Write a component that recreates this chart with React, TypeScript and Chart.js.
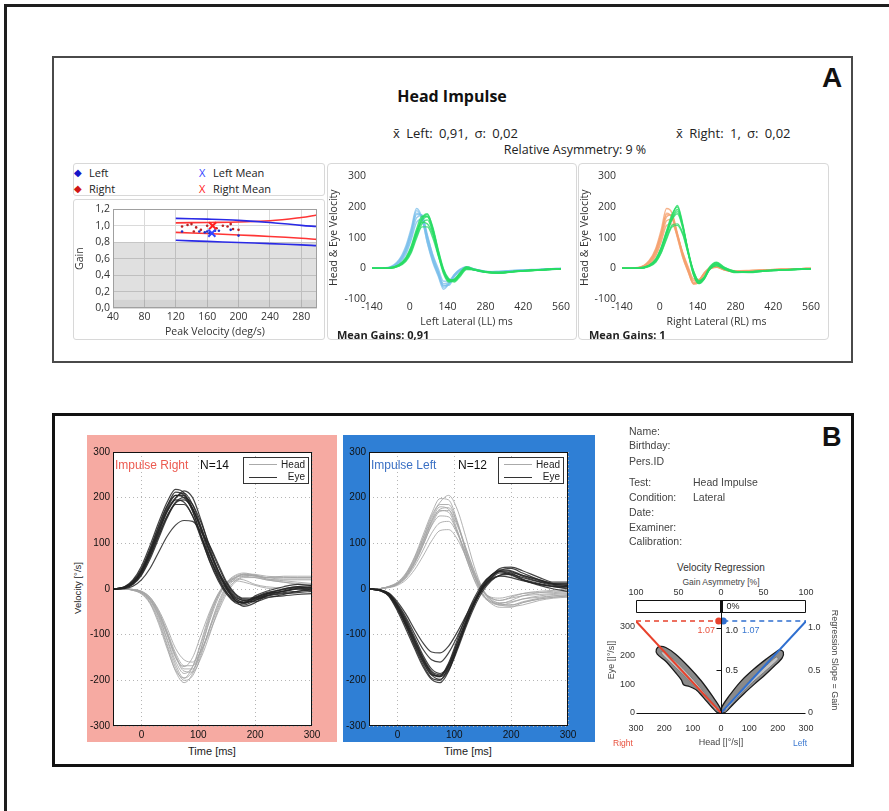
import React, { useEffect, useRef } from 'react';
import { Chart, registerables } from 'chart.js';
Chart.register(...registerables);

const SANS_A = '"Open Sans", "Noto Sans", sans-serif';
const SANS_B = '"Liberation Sans", Arial, sans-serif';

// ================= Panel A : gain vs peak velocity =================
const gainXTicks = [40, 80, 120, 160, 200, 240, 280];
const gainYTicks = [0, 0.2, 0.4, 0.6, 0.8, 1.0, 1.2];
const normLimitLow = 0.8;
const normLimitFloor = 0.1;
const regVelX = [120, 160, 200, 240, 280, 300];
const leftUpper = [1.09, 1.08, 1.065, 1.04, 1.005, 0.99];
const leftLower = [0.823, 0.81, 0.796, 0.783, 0.768, 0.758];
const rightUpper = [1.035, 1.04, 1.046, 1.06, 1.1, 1.13];
const rightLower = [0.92, 0.905, 0.888, 0.87, 0.848, 0.834];
const rightDotsX = [128, 135, 140, 143, 146, 152, 160, 172, 180, 186, 190, 193, 200];
const rightDotsY = [0.99, 1.01, 1.02, 0.93, 0.98, 0.95, 1.0, 0.97, 1.0, 0.99, 1.02, 0.96, 0.95];
const leftDotsX = [128, 150, 157, 160, 163, 170, 175, 190, 200];
const leftDotsY = [0.93, 0.93, 0.92, 0.93, 0.91, 0.94, 0.94, 0.95, 0.88];
const leftMeanVel = 166;
const leftMeanGain = 0.91;
const rightMeanVel = 167;
const rightMeanGain = 1.0;

// ================= Panel A : velocity traces =================
const tA = [-140, -80, -40, -15, 5, 25, 45, 65, 85, 105, 125, 145, 165, 185, 210, 240, 280, 330, 390, 450, 510, 560];
const tAxTicks = [-140, 0, 140, 280, 420, 560];
const tAyTicks = [-100, 0, 100, 200, 300];
const headLL = [
  [0, 2, 22, 60, 115, 180, 170, 95, 30, -15, -58, -48, -22, -5, 3, -4, -10, -12, -8, -5, -3, 0],
  [0, 3, 28, 72, 130, 195, 165, 82, 20, -25, -68, -50, -20, -3, 5, -2, -12, -10, -6, -6, -2, 0],
  [0, 1, 18, 52, 100, 165, 172, 110, 42, -8, -50, -45, -25, -8, 2, -5, -12, -14, -9, -5, -4, -1],
  [0, 2, 25, 65, 122, 188, 160, 85, 25, -20, -62, -52, -24, -6, 4, -3, -9, -11, -7, -4, -3, 0],
  [0, 1, 15, 45, 92, 150, 160, 105, 45, 0, -42, -40, -20, -6, 2, -6, -13, -12, -8, -6, -3, -1],
  [0, 2, 20, 58, 110, 175, 175, 100, 35, -12, -55, -55, -28, -10, 0, -5, -11, -10, -9, -5, -2, 0],
];
const eyeLL = [
  [0, 0, 10, 30, 65, 120, 165, 178, 130, 55, -10, -40, -40, -20, 2, -5, -12, -15, -10, -7, -4, -2],
  [0, 1, 12, 35, 72, 128, 170, 170, 120, 45, -18, -45, -38, -15, 5, -3, -10, -13, -9, -6, -3, -1],
  [0, 0, 8, 25, 55, 105, 145, 158, 118, 50, -8, -35, -38, -22, 0, -6, -13, -14, -11, -7, -5, -2],
  [0, 0, 9, 28, 60, 112, 155, 168, 128, 58, -5, -38, -42, -24, -2, -4, -12, -16, -10, -8, -4, -2],
  [0, 1, 11, 32, 68, 118, 150, 145, 110, 48, -12, -42, -35, -18, 3, -5, -11, -13, -9, -6, -4, -1],
  [0, 0, 7, 22, 50, 98, 135, 135, 100, 42, -10, -38, -36, -18, 1, -6, -12, -15, -10, -6, -3, -2],
  [0, 1, 10, 30, 62, 115, 160, 175, 135, 62, -2, -35, -45, -28, -4, -5, -13, -15, -11, -7, -4, -2],
];
const headRL = [
  [0, 2, 20, 55, 110, 175, 170, 110, 45, -5, -45, -40, -15, 0, 5, -5, -10, -8, -5, -3, -2, 0],
  [0, 3, 25, 65, 125, 195, 180, 105, 35, -12, -52, -45, -18, -2, 4, -6, -12, -9, -6, -4, -2, 0],
  [0, 1, 15, 45, 95, 155, 160, 112, 50, 0, -40, -38, -15, 2, 6, -4, -9, -8, -5, -3, -2, 0],
  [0, 2, 22, 60, 115, 180, 165, 100, 38, -10, -50, -42, -16, -1, 5, -5, -11, -10, -6, -4, -3, -1],
  [0, 1, 12, 40, 85, 140, 145, 105, 52, 5, -35, -36, -14, 2, 6, -3, -8, -7, -5, -3, -2, 0],
  [0, 2, 18, 52, 105, 168, 175, 115, 45, -6, -48, -44, -20, -3, 3, -6, -12, -9, -6, -4, -2, 0],
];
const eyeRL = [
  [0, 0, 8, 25, 60, 110, 160, 185, 135, 55, -15, -45, -30, 0, 15, 0, -12, -12, -8, -5, -3, -2],
  [0, 1, 10, 30, 68, 122, 175, 200, 140, 50, -22, -50, -32, 2, 18, 2, -10, -14, -9, -6, -3, -1],
  [0, 0, 6, 20, 50, 95, 135, 140, 110, 48, -10, -40, -28, -2, 12, -2, -13, -12, -8, -5, -4, -2],
  [0, 0, 8, 26, 62, 112, 158, 178, 132, 58, -12, -46, -34, -4, 10, -1, -12, -13, -9, -6, -3, -2],
  [0, 1, 9, 28, 64, 115, 165, 192, 138, 52, -18, -48, -28, 5, 20, 3, -10, -11, -7, -5, -3, -1],
  [0, 0, 7, 22, 52, 100, 140, 145, 115, 50, -8, -42, -30, -3, 8, -3, -14, -12, -8, -6, -4, -2],
  [0, 1, 10, 30, 66, 120, 170, 205, 145, 55, -20, -50, -35, 0, 14, 0, -11, -13, -9, -5, -3, -1],
];

// ================= Panel B : impulse traces =================
const tB = [-50, -30, -15, 0, 15, 30, 45, 60, 75, 90, 105, 120, 135, 150, 165, 180, 200, 220, 250, 275, 300];
const tBxTicks = [0, 100, 200, 300];
const tByTicks = [-300, -200, -100, 0, 100, 200, 300];
const eyeImpRight = [
  [0, 4, 16, 42, 85, 135, 180, 212, 205, 170, 118, 68, 28, -2, -22, -28, -18, -8, -2, 3, 2],
  [0, 3, 14, 38, 78, 125, 170, 200, 210, 185, 135, 80, 35, 2, -20, -30, -22, -12, -5, 0, -3],
  [0, 2, 10, 30, 65, 110, 155, 188, 195, 175, 130, 82, 40, 8, -15, -25, -20, -15, -10, -8, -5],
  [0, 5, 20, 50, 95, 145, 190, 218, 210, 172, 115, 60, 18, -12, -30, -35, -25, -12, 0, 5, 8],
  [0, 3, 12, 35, 72, 118, 160, 185, 185, 160, 115, 70, 32, 4, -18, -25, -28, -20, -12, -5, 0],
  [0, 1, 6, 20, 45, 80, 115, 140, 150, 148, 125, 95, 55, 15, -10, -20, -18, -10, -5, 0, 2],
  [0, 4, 18, 45, 88, 138, 182, 205, 200, 175, 135, 85, 40, 5, -25, -38, -30, -15, -5, 2, 5],
  [0, 3, 13, 36, 75, 122, 168, 198, 215, 200, 150, 90, 40, 0, -25, -32, -20, -10, 0, 5, 3],
  [0, 2, 11, 32, 70, 115, 158, 190, 200, 185, 145, 95, 50, 12, -12, -22, -22, -18, -15, -12, -10],
  [0, 4, 15, 40, 82, 130, 175, 205, 205, 178, 128, 72, 25, -8, -28, -30, -15, -5, 5, 10, 8],
  [0, 3, 14, 38, 80, 128, 172, 195, 190, 160, 110, 62, 22, -8, -25, -30, -25, -15, -8, -5, -2],
];
const headImpRight = [
  [0, 0, -2, -8, -25, -60, -112, -165, -195, -180, -130, -70, -20, 12, 28, 32, 28, 25, 25, 25, 25],
  [0, 0, -1, -6, -20, -50, -95, -145, -175, -175, -140, -85, -35, 5, 25, 32, 30, 22, 18, 15, 12],
  [0, 0, -3, -10, -30, -70, -125, -180, -205, -185, -130, -65, -15, 15, 30, 35, 30, 25, 28, 28, 28],
  [0, 0, -2, -7, -22, -55, -100, -150, -170, -150, -100, -50, -10, 15, 25, 28, 25, 20, 15, 10, 8],
  [0, 0, -1, -5, -18, -45, -85, -130, -155, -160, -135, -95, -50, -10, 15, 25, 25, 20, 15, 12, 10],
  [0, 0, -2, -9, -28, -65, -120, -172, -200, -190, -145, -85, -30, 8, 25, 30, 28, 22, 20, 20, 20],
  [0, 0, -1, -6, -22, -52, -98, -148, -180, -182, -150, -100, -45, -5, 18, 28, 30, 25, 22, 22, 22],
  [0, 0, -2, -8, -24, -58, -108, -158, -185, -170, -120, -60, -15, 10, 18, 15, 8, 2, 0, 0, 0],
  [0, 0, -3, -11, -32, -75, -130, -178, -195, -170, -115, -55, -12, 12, 22, 20, 10, 5, 2, 0, -2],
  [0, 0, -1, -5, -18, -48, -92, -140, -168, -168, -135, -88, -40, 0, 22, 33, 32, 28, 26, 25, 25],
];
const eyeImpLeft = [
  [0, -3, -12, -38, -72, -112, -152, -185, -192, -165, -118, -72, -30, 5, 25, 38, 35, 22, 12, 6, 5],
  [0, -4, -15, -45, -82, -125, -165, -195, -200, -170, -120, -70, -28, 8, 30, 42, 40, 30, 18, 10, 8],
  [0, -2, -10, -32, -62, -98, -132, -155, -160, -140, -105, -65, -30, 0, 20, 30, 32, 25, 15, 8, 5],
  [0, -3, -13, -40, -78, -118, -158, -188, -198, -178, -135, -85, -40, -5, 18, 30, 35, 30, 20, 12, 10],
  [0, -2, -9, -28, -55, -88, -118, -138, -140, -125, -95, -60, -25, 5, 22, 28, 25, 18, 10, 5, 2],
  [0, -4, -16, -48, -88, -130, -170, -198, -205, -180, -130, -78, -32, 3, 28, 45, 48, 40, 25, 15, 15],
  [0, -3, -12, -36, -70, -110, -150, -180, -188, -170, -128, -80, -35, 0, 22, 35, 30, 20, 10, 5, 0],
  [0, -3, -14, -42, -80, -122, -160, -188, -190, -162, -112, -62, -20, 12, 30, 38, 32, 20, 8, 0, -5],
  [0, -2, -11, -34, -66, -105, -145, -175, -185, -168, -125, -75, -32, 2, 25, 40, 45, 35, 20, 12, 12],
  [0, -3, -13, -39, -75, -115, -155, -182, -192, -175, -130, -78, -30, 8, 30, 40, 38, 28, 16, 10, 8],
];
const headImpLeft = [
  [0, 1, 5, 12, 30, 62, 105, 150, 180, 175, 130, 72, 20, -15, -30, -35, -30, -22, -15, -12, -10],
  [0, 1, 4, 10, 26, 55, 95, 140, 170, 172, 140, 90, 38, -5, -25, -30, -28, -22, -18, -15, -15],
  [0, 1, 6, 15, 35, 70, 118, 165, 198, 195, 150, 85, 28, -12, -32, -40, -40, -30, -22, -18, -15],
  [0, 1, 4, 10, 24, 50, 85, 122, 145, 148, 122, 80, 35, -3, -20, -25, -20, -15, -12, -10, -8],
  [0, 1, 5, 13, 32, 65, 110, 155, 185, 185, 145, 85, 30, -10, -28, -35, -38, -35, -25, -20, -18],
  [0, 1, 3, 8, 20, 42, 72, 105, 128, 130, 110, 72, 30, -5, -18, -20, -15, -10, -8, -8, -5],
  [0, 1, 5, 14, 33, 68, 112, 160, 190, 205, 175, 115, 50, 0, -25, -35, -35, -28, -20, -15, -12],
  [0, 1, 4, 11, 28, 58, 100, 145, 172, 168, 125, 70, 22, -12, -28, -32, -25, -15, -8, -5, -5],
  [0, 1, 5, 12, 30, 60, 102, 148, 175, 178, 145, 92, 40, 0, -22, -32, -35, -30, -22, -18, -15],
  [0, 1, 4, 11, 27, 56, 96, 138, 160, 158, 125, 78, 30, -5, -20, -25, -18, -10, -5, -3, 0],
];

// ================= Panel B : velocity regression =================
const regXTicks = [-300, -200, -100, 0, 100, 200, 300];
const regYTicks = [0, 100, 200, 300];
const slopeTicks = [0, 0.5, 1.0];
const asymTicks = [-100, -50, 0, 50, 100];
const slopeScale = 297; // eye deg/s that correspond to a slope of 1.0
const gainRight = 1.07;
const gainLeft = 1.07;
const regRightLineX = [-300, 0];
const regRightLineY = [320, 0];
const regLeftLineX = [0, 300];
const regLeftLineY = [0, 320];
const blobRightOuterX = [-4, -2, -30, -70, -115, -160, -195, -215, -228, -225, -195, -160, -140, -132, -112, -85, -52, -25, -12, -4];
const blobRightOuterY = [0, 15, 58, 112, 162, 205, 228, 232, 222, 205, 180, 140, 115, 98, 92, 78, 42, 12, 0, 0];
const blobRightInnerX = [-15, -60, -110, -160, -200, -212, -200, -160, -110, -60, -15, -15];
const blobRightInnerY = [14, 72, 130, 180, 212, 212, 196, 158, 110, 58, 6, 14];
const blobLeftOuterX = [4, 2, 28, 70, 115, 160, 190, 207, 220, 216, 190, 155, 120, 80, 45, 22, 12, 4];
const blobLeftOuterY = [0, 18, 58, 110, 152, 188, 210, 220, 212, 192, 165, 132, 102, 66, 32, 8, 0, 0];
const blobLeftInnerX = [15, 60, 110, 160, 195, 202, 190, 150, 100, 55, 15, 15];
const blobLeftInnerY = [14, 68, 122, 165, 195, 188, 175, 140, 96, 50, 5, 14];
const gainDotOffset = 8;

// ================= helpers =================
const pts = (xs: number[], ys: number[]) => xs.map((x, i) => ({ x, y: ys[i] }));
const setTicks = (vals: number[]) => (s: any) => { s.ticks = vals.map((v) => ({ value: v })); };

function baseOptions(padding: any) {
  return {
    animation: false,
    responsive: false,
    devicePixelRatio: 1,
    events: [],
    layout: { padding },
    plugins: { legend: { display: false }, tooltip: { enabled: false }, title: { display: false } },
  };
}

function framePlugin(color: string, width: number, fill?: string) {
  return {
    id: 'frame',
    beforeDraw(chart: any) {
      if (!fill) return;
      const { ctx, chartArea: a } = chart;
      ctx.save();
      ctx.fillStyle = fill;
      ctx.fillRect(a.left, a.top, a.right - a.left, a.bottom - a.top);
      ctx.restore();
    },
    afterDraw(chart: any) {
      const { ctx, chartArea: a } = chart;
      ctx.save();
      ctx.strokeStyle = color;
      ctx.lineWidth = width;
      const l = Math.round(a.left) + 0.5, t = Math.round(a.top) + 0.5;
      const r = Math.round(a.right) - 0.5, b = Math.round(a.bottom) - 0.5;
      ctx.strokeRect(l, t, r - l, b - t);
      ctx.restore();
    },
  };
}

function traceSets(ts: number[], traces: number[][], color: string, width: number) {
  return traces.map((v) => ({
    data: pts(ts, v),
    showLine: true,
    borderColor: color,
    borderWidth: width,
    pointRadius: 0,
    cubicInterpolationMode: 'monotone',
    fill: false,
  }));
}

const noGrid = { display: false, drawTicks: false };

// ================= chart configs =================
function gainConfig() {
  const curve = (ys: number[], c: string) => ({ data: pts(regVelX, ys), showLine: true, borderColor: c, borderWidth: 1.6, pointRadius: 0, tension: 0.4 });
  const band = (v: number, c: string) => ({ data: [{ x: 40, y: v }, { x: 300, y: v }], showLine: true, fill: 'origin', backgroundColor: c, borderColor: 'transparent', borderWidth: 0, pointRadius: 0 });
  return {
    type: 'scatter',
    data: {
      datasets: [
        { data: [{ x: leftMeanVel, y: leftMeanGain }], pointStyle: 'crossRot', pointRadius: 5, borderColor: '#3344ff', borderWidth: 2 },
        { data: [{ x: rightMeanVel, y: rightMeanGain }], pointStyle: 'crossRot', pointRadius: 5, borderColor: '#ff2020', borderWidth: 2 },
        { data: pts(leftDotsX, leftDotsY), pointRadius: 1.3, backgroundColor: '#2233cc', borderWidth: 0 },
        { data: pts(rightDotsX, rightDotsY), pointRadius: 1.3, backgroundColor: '#bb2222', borderWidth: 0 },
        curve(leftUpper, '#2a2ae6'),
        curve(leftLower, '#2a2ae6'),
        curve(rightUpper, '#ff3535'),
        curve(rightLower, '#ff3535'),
        band(normLimitFloor, 'rgba(0,0,0,0.06)'),
        band(normLimitLow, 'rgba(0,0,0,0.12)'),
      ],
    },
    options: {
      ...baseOptions({ top: 4, right: 4, bottom: 0, left: 0 }),
      scales: {
        x: {
          type: 'linear', min: 40, max: 300,
          afterBuildTicks: setTicks(gainXTicks),
          afterFit: (s: any) => { s.height = 31; },
          ticks: { font: { family: SANS_A, size: 10.5 }, color: '#333', padding: 3, maxRotation: 0 },
          grid: { color: '#dadada', drawTicks: false },
          border: { display: false },
          title: { display: true, text: 'Peak Velocity (deg/s)', font: { family: SANS_A, size: 10.5 }, color: '#333', padding: { top: 0, bottom: 1 } },
        },
        y: {
          min: 0, max: 1.2,
          afterBuildTicks: setTicks(gainYTicks),
          afterFit: (s: any) => { s.width = 39; },
          ticks: { font: { family: SANS_A, size: 10.5 }, color: '#333', padding: 3, callback: (v: any) => Number(v).toFixed(1).replace('.', ',') },
          grid: { color: '#dadada', drawTicks: false },
          border: { display: false },
          title: { display: true, text: 'Gain', font: { family: SANS_A, size: 10.5 }, color: '#333', padding: { top: 0, bottom: 4 } },
        },
      },
    },
    plugins: [framePlugin('#a0a0a0', 1)],
  };
}

function traceAConfig(head: number[][], headColor: string, eye: number[][], xTitle: string, yWidth: number, padRight: number) {
  const tickFont = { family: SANS_A, size: 10.5 };
  return {
    type: 'scatter',
    data: {
      datasets: [
        ...traceSets(tA, eye, 'rgba(40,220,100,0.8)', 1.4),
        ...traceSets(tA, head, headColor, 1.4),
      ],
    },
    options: {
      ...baseOptions({ top: 7, right: padRight, bottom: 12, left: 0 }),
      scales: {
        x: {
          type: 'linear', min: -140, max: 560,
          afterBuildTicks: setTicks(tAxTicks),
          afterFit: (s: any) => { s.height = 29; },
          ticks: { font: tickFont, color: '#333', padding: 2, maxRotation: 0 },
          grid: noGrid, border: { display: false },
          title: { display: true, text: xTitle, font: tickFont, color: '#333', padding: { top: 0, bottom: 0 } },
        },
        y: {
          min: -100, max: 300,
          afterBuildTicks: setTicks(tAyTicks),
          afterFit: (s: any) => { s.width = yWidth; },
          ticks: { font: tickFont, color: '#333', padding: 6 },
          grid: noGrid, border: { display: false },
          title: { display: true, text: 'Head & Eye Velocity', font: tickFont, color: '#333', padding: { top: 0, bottom: 0 } },
        },
      },
    },
  };
}

function traceBConfig(head: number[][], eye: number[][], padRight: number) {
  const tickFont = { family: SANS_B, size: 10 };
  return {
    type: 'scatter',
    data: {
      datasets: [
        ...traceSets(tB, eye, 'rgba(35,35,35,0.85)', 1.2),
        ...traceSets(tB, head, 'rgba(165,165,165,0.85)', 1),
      ],
    },
    options: {
      ...baseOptions({ top: 17, right: padRight, bottom: 0, left: 0 }),
      scales: {
        x: {
          type: 'linear', min: -50, max: 300,
          afterBuildTicks: setTicks(tBxTicks),
          afterFit: (s: any) => { s.height = 16; },
          ticks: { font: tickFont, color: '#111', padding: 3, maxRotation: 0 },
          grid: { color: '#b5b5b5', drawTicks: false },
          border: { display: false, dash: [1, 3] },
        },
        y: {
          min: -300, max: 300,
          afterBuildTicks: setTicks(tByTicks),
          afterFit: (s: any) => { s.width = 26; },
          ticks: { font: tickFont, color: '#111', padding: 3 },
          grid: { color: '#b5b5b5', drawTicks: false },
          border: { display: false, dash: [1, 3] },
        },
      },
    },
    plugins: [framePlugin('#111', 1, '#ffffff')],
  };
}

function regressionConfig() {
  const f9 = { family: SANS_B, size: 9 };
  const yTop = 394;
  const stripBottom = 352;
  const decor = {
    id: 'regDecor',
    afterDatasetsDraw(chart: any) {
      const { ctx, scales } = chart;
      const X = (v: number) => scales.x.getPixelForValue(v);
      const Y = (v: number) => scales.y.getPixelForValue(v);
      const line = (x1: number, y1: number, x2: number, y2: number, w = 1, c = '#111') => {
        ctx.beginPath(); ctx.lineWidth = w; ctx.strokeStyle = c; ctx.moveTo(x1, y1); ctx.lineTo(x2, y2); ctx.stroke();
      };
      ctx.save();
      const L = Math.round(X(-300)) + 0.5, R = Math.round(X(300)) - 0.5;
      const T = Math.round(Y(yTop)) + 0.5, S = Math.round(Y(stripBottom)) + 0.5, Z = Math.round(Y(0)) + 0.5;
      const C = Math.round(X(0)) + 0.5;
      line(L, T, R, T); line(L, S, R, S); line(L, T, L, S); line(R, T, R, S);
      line(L, Z, R, Z);
      line(C, S, C, Z);
      line(C, T, C, S, 3);
      [0.5, 1.0].forEach((g) => line(C - 5, Math.round(Y(g * slopeScale)) + 0.5, C, Math.round(Y(g * slopeScale)) + 0.5));
      ctx.font = '9px ' + SANS_B;
      ctx.textBaseline = 'middle';
      ctx.fillStyle = '#222';
      ctx.textAlign = 'left';
      ctx.fillText('0%', C + 5, (T + S) / 2);
      ctx.fillText('0.5', C + 4, Y(0.5 * slopeScale));
      ctx.fillText('1.0', C + 4, Y(1.0 * slopeScale) + 3);
      ctx.fillStyle = '#e8503c';
      ctx.textAlign = 'right';
      ctx.fillText(gainRight.toFixed(2), X(-21), Y(1.0 * slopeScale) + 3);
      ctx.fillStyle = '#3a78d0';
      ctx.textAlign = 'left';
      ctx.fillText(gainLeft.toFixed(2), X(74), Y(1.0 * slopeScale) + 3);
      ctx.restore();
    },
  };
  const poly = (xs: number[], ys: number[], fill: string, border: string, w: number) => ({
    data: pts(xs, ys), showLine: true, fill: 'shape', backgroundColor: fill, borderColor: border, borderWidth: w, pointRadius: 0, tension: 0.3,
  });
  return {
    type: 'scatter',
    data: {
      datasets: [
        { data: [{ x: -gainDotOffset, y: gainRight * 300 }], pointRadius: 3.5, backgroundColor: '#e8412c', borderWidth: 0 },
        { data: [{ x: gainDotOffset, y: gainLeft * 300 }], pointRadius: 3.5, backgroundColor: '#2f6fd0', borderWidth: 0 },
        { data: pts(regRightLineX, regRightLineY), showLine: true, borderColor: '#e8412c', borderWidth: 2, pointRadius: 0 },
        { data: pts(regLeftLineX, regLeftLineY), showLine: true, borderColor: '#2f6fd0', borderWidth: 2, pointRadius: 0 },
        { data: [{ x: -300, y: gainRight * 300 }, { x: -gainDotOffset, y: gainRight * 300 }], showLine: true, borderColor: '#e8412c', borderWidth: 1.5, borderDash: [5, 4], pointRadius: 0 },
        { data: [{ x: gainDotOffset, y: gainLeft * 300 }, { x: 300, y: gainLeft * 300 }], showLine: true, borderColor: '#2f6fd0', borderWidth: 1.5, borderDash: [5, 4], pointRadius: 0 },
        poly(blobRightInnerX, blobRightInnerY, '#c2c2c2', '#7a7a7a', 1),
        poly(blobLeftInnerX, blobLeftInnerY, '#c2c2c2', '#7a7a7a', 1),
        poly(blobRightOuterX, blobRightOuterY, '#8a8a8a', '#1a1a1a', 1.3),
        poly(blobLeftOuterX, blobLeftOuterY, '#8a8a8a', '#1a1a1a', 1.3),
      ],
    },
    options: {
      ...baseOptions({ top: 0, right: 6, bottom: 0, left: 0 }),
      scales: {
        x: {
          type: 'linear', position: 'bottom', min: -300, max: 300,
          afterBuildTicks: setTicks(regXTicks),
          afterFit: (s: any) => { s.height = 30; },
          ticks: { font: f9, color: '#333', padding: 3, maxRotation: 0, callback: (v: any) => String(Math.abs(v)) },
          grid: noGrid, border: { display: false },
          title: { display: true, text: 'Head [|°/s|]', font: f9, color: '#444', padding: { top: 0, bottom: 2 } },
        },
        x2: {
          type: 'linear', position: 'top', min: -100, max: 100,
          afterBuildTicks: setTicks(asymTicks),
          afterFit: (s: any) => { s.height = 14; },
          ticks: { font: f9, color: '#333', padding: 2, maxRotation: 0, callback: (v: any) => String(Math.abs(v)) },
          grid: noGrid, border: { display: false },
        },
        y: {
          position: 'left', min: -25, max: yTop,
          afterBuildTicks: setTicks(regYTicks),
          afterFit: (s: any) => { s.width = 30; },
          ticks: { font: f9, color: '#333', padding: 1 },
          grid: noGrid, border: { display: false },
          title: { display: true, text: 'Eye [|°/s|]', font: f9, color: '#444', padding: { top: 0, bottom: 0 } },
        },
        y2: {
          position: 'right', min: -25 / slopeScale, max: yTop / slopeScale,
          afterBuildTicks: setTicks(slopeTicks),
          afterFit: (s: any) => { s.width = 34; },
          ticks: { font: f9, color: '#333', padding: 2, callback: (v: any) => (v === 0 ? '0' : Number(v).toFixed(1)) },
          grid: noGrid, border: { display: false },
          title: { display: true, text: 'Regression Slope = Gain', font: f9, color: '#444', padding: { top: 0, bottom: 0 } },
        },
      },
    },
    plugins: [decor],
  };
}

// ================= components =================
function ChartBox({ left, top, width, height, make, bg }: any) {
  const ref = useRef<HTMLCanvasElement>(null);
  useEffect(() => {
    const chart = new Chart(ref.current as HTMLCanvasElement, make());
    return () => chart.destroy();
  }, []);
  return (
    <div style={{ position: 'absolute', left, top, width, height, background: bg || 'transparent' }}>
      <canvas ref={ref} width={width} height={height} style={{ width, height, display: 'block' }} />
    </div>
  );
}

function T({ x, y, children, size = 11, color = '#222', weight = 400, align = 'left', font = SANS_A, rotate = 0, ws = 0 }: any) {
  const tx = align === 'left' ? '0' : align === 'center' ? '-50%' : '-100%';
  return (
    <div style={{
      position: 'absolute', left: x, top: y, transform: `translate(${tx},-50%)${rotate ? ` rotate(${rotate}deg)` : ''}`,
      fontSize: size, color, fontWeight: weight, fontFamily: font, whiteSpace: 'pre', lineHeight: 1, wordSpacing: ws,
    }}>{children}</div>
  );
}

function Box({ left, top, width, height, border, radius = 0, bg }: any) {
  return <div style={{ position: 'absolute', left, top, width, height, border, borderRadius: radius, boxSizing: 'border-box', background: bg }} />;
}

function LegendB({ left }: any) {
  return (
    <div style={{ position: 'absolute', left, top: 457, width: 66, height: 27, background: '#fff', border: '1px solid #333', boxSizing: 'border-box' }}>
      <div style={{ position: 'absolute', left: 5, top: 6, width: 28, height: 0, borderTop: '1px solid #aaa' }} />
      <div style={{ position: 'absolute', left: 5, top: 19, width: 28, height: 0, borderTop: '1.5px solid #333' }} />
      <T x={61} y={7} size={10} font={SANS_B} align="right" color="#222">Head</T>
      <T x={61} y={19} size={10} font={SANS_B} align="right" color="#222">Eye</T>
    </div>
  );
}

export default function App() {
  return (
    <div style={{ position: 'absolute', left: 0, top: 0, width: 889, height: 811, background: '#fff', overflow: 'hidden', fontFamily: SANS_A }}>
      {/* outer frame */}
      <div style={{ position: 'absolute', left: 4, top: 4, width: 950, height: 900, borderTop: '3px solid #1e1e1e', borderLeft: '3px solid #1e1e1e' }} />

      {/* ===== Panel A ===== */}
      <Box left={52} top={56} width={801} height={307} border="2px solid #4a4a4a" />
      <T x={822} y={78} size={28} weight={700} font={SANS_B} color="#111">A</T>
      <T x={452} y={96} size={16} weight={700} align="center" color="#111">Head Impulse</T>
      <T x={393} y={133} size={13} ws={3} color="#222">x̄ Left: 0,91, σ: 0,02</T>
      <T x={676} y={133} size={13} ws={3} color="#222">x̄ Right: 1, σ: 0,02</T>
      <T x={575} y={150} size={12.5} align="center" color="#222">Relative Asymmetry: 9 %</T>

      <Box left={73} top={163} width={252} height={33} border="1px solid #d8d8d8" radius={3} />
      <T x={74} y={172} size={10} color="#1515c8">◆</T>
      <T x={89} y={172} size={11} color="#222">Left</T>
      <T x={74} y={188} size={10} color="#d01515">◆</T>
      <T x={89} y={188} size={11} color="#222">Right</T>
      <T x={199} y={172} size={11} color="#3344ff">X</T>
      <T x={213} y={172} size={11} color="#222">Left Mean</T>
      <T x={199} y={188} size={11} color="#ff2020">X</T>
      <T x={213} y={188} size={11} color="#222">Right Mean</T>

      <Box left={73} top={199} width={252} height={141} border="1px solid #d8d8d8" radius={3} />
      <ChartBox left={74} top={200} width={250} height={139} make={gainConfig} />

      <Box left={327} top={163} width={250} height={177} border="1px solid #d8d8d8" radius={4} />
      <ChartBox left={328} top={164} width={248} height={176}
        make={() => traceAConfig(headLL, 'rgba(120,190,235,0.75)', eyeLL, 'Left Lateral (LL) ms', 44, 15)} />
      <T x={337} y={334} size={11} weight={700} color="#222">Mean Gains: 0,91</T>

      <Box left={578} top={163} width={251} height={177} border="1px solid #d8d8d8" radius={4} />
      <ChartBox left={579} top={164} width={249} height={176}
        make={() => traceAConfig(headRL, 'rgba(245,160,110,0.8)', eyeRL, 'Right Lateral (RL) ms', 43, 17)} />
      <T x={589} y={334} size={11} weight={700} color="#222">Mean Gains: 1</T>

      {/* ===== Panel B ===== */}
      <Box left={52} top={413} width={802} height={354} border="3px solid #111" />
      <T x={822} y={437} size={27} weight={700} font={SANS_B} color="#111">B</T>

      <ChartBox left={87} top={435} width={250} height={307} bg="#f6aaa2" make={() => traceBConfig(headImpRight, eyeImpRight, 25)} />
      <T x={115} y={465} size={12} font={SANS_B} color="#ec5a50">Impulse Right</T>
      <T x={200} y={465} size={12} font={SANS_B} color="#111">N=14</T>
      <LegendB left={243} />
      <T x={212} y={751} size={11} font={SANS_B} align="center" color="#222">Time [ms]</T>
      <T x={78} y={588} size={9.5} font={SANS_B} align="center" color="#222" rotate={-90}>Velocity [°/s]</T>

      <ChartBox left={343} top={435} width={252} height={307} bg="#2f7fd5" make={() => traceBConfig(headImpLeft, eyeImpLeft, 27)} />
      <T x={371} y={465} size={12} font={SANS_B} color="#3a70c4">Impulse Left</T>
      <T x={458} y={465} size={12} font={SANS_B} color="#111">N=12</T>
      <LegendB left={498} />
      <T x={468} y={751} size={11} font={SANS_B} align="center" color="#222">Time [ms]</T>

      <T x={629} y={431} size={10.5} font={SANS_B} color="#444">Name:</T>
      <T x={629} y={445} size={10.5} font={SANS_B} color="#444">Birthday:</T>
      <T x={629} y={461} size={10.5} font={SANS_B} color="#444">Pers.ID</T>
      <T x={629} y={482} size={10.5} font={SANS_B} color="#444">Test:</T>
      <T x={693} y={482} size={10.5} font={SANS_B} color="#444">Head Impulse</T>
      <T x={629} y={497} size={10.5} font={SANS_B} color="#444">Condition:</T>
      <T x={693} y={497} size={10.5} font={SANS_B} color="#444">Lateral</T>
      <T x={629} y={512} size={10.5} font={SANS_B} color="#444">Date:</T>
      <T x={629} y={527} size={10.5} font={SANS_B} color="#444">Examiner:</T>
      <T x={629} y={541} size={10.5} font={SANS_B} color="#444">Calibration:</T>

      <T x={721} y={568} size={10} font={SANS_B} align="center" color="#333">Velocity Regression</T>
      <T x={721} y={582} size={8.5} font={SANS_B} align="center" color="#444">Gain Asymmetry [%]</T>
      <ChartBox left={606} top={586} width={240} height={164} make={regressionConfig} />
      <T x={623} y={743} size={8.5} font={SANS_B} align="center" color="#e8503c">Right</T>
      <T x={800} y={743} size={8.5} font={SANS_B} align="center" color="#3a78d0">Left</T>
    </div>
  );
}
